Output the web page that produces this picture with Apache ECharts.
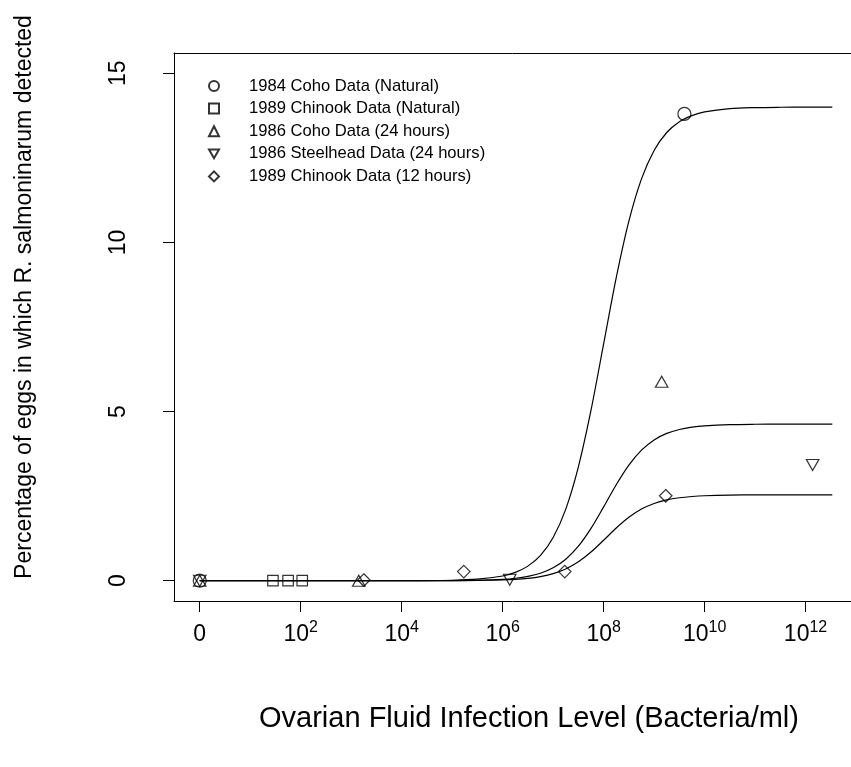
<!DOCTYPE html>
<html><head><meta charset="utf-8">
<script src="https://cdn.jsdelivr.net/npm/echarts@6/dist/echarts.min.js"></script>
<style>html,body{margin:0;padding:0;background:#fff}#c{width:851px;height:767px}</style>
</head><body><div id="c"></div>
<script>
// ---- data (x in log10 of bacteria/ml; "0" plotted at position 0) ----
const seriesNames = ['1984 Coho Data (Natural)','1989 Chinook Data (Natural)','1986 Coho Data (24 hours)','1986 Steelhead Data (24 hours)','1989 Chinook Data (12 hours)'];
const cohoNatX = [0, 9.6];
const cohoNatY = [0, 13.8];
const chinookNatX = [1.45, 1.75, 2.03];
const chinookNatY = [0, 0, 0];
const coho24X = [0, 3.15, 9.15];
const coho24Y = [0, 0, 5.88];
const steel24X = [0, 6.14, 12.14];
const steel24Y = [0, 0.03, 3.42];
const chinook12X = [3.25, 5.23, 7.23, 9.23];
const chinook12Y = [0.02, 0.27, 0.27, 2.51];
// fitted curves
const curveX = [0,1,2,3,4,5,5.5,6,6.25,6.5,6.75,7,7.25,7.5,7.75,8,8.25,8.5,8.75,9,9.25,9.5,9.75,10,10.5,11,11.5,12,12.53];
const curveTopY = [0,0,0,0,0.001,0.014,0.045,0.139,0.246,0.431,0.748,1.276,2.117,3.367,5.04,7.0,8.96,10.63,11.88,12.72,13.25,13.57,13.75,13.86,13.956,13.986,13.996,13.999,14.0];
const curveMidY = [0,0,0,0,0,0.004,0.013,0.041,0.073,0.128,0.222,0.380,0.634,1.019,1.546,2.182,2.838,3.417,3.859,4.162,4.354,4.471,4.539,4.578,4.614,4.625,4.628,4.630,4.630];
const curveLowY = [0,0,0,0,0,0.002,0.007,0.023,0.040,0.070,0.122,0.208,0.348,0.559,0.848,1.197,1.557,1.874,2.117,2.283,2.389,2.453,2.490,2.512,2.531,2.537,2.539,2.540,2.540];
// ticks
const xTickValues = [0,2,4,6,8,10,12];
const xTickBase = ['0','10','10','10','10','10','10'];
const xTickExp = ['','2','4','6','8','10','12'];
const yTickValues = [0,5,10,15];

const FONT = "'Liberation Sans', Arial, Helvetica, sans-serif";
const X_MIN = -0.51, X_MAX = 12.9, Y_MIN = -0.6, Y_MAX = 15.6;
const pairs = (xs, ys) => xs.map((x, i) => [x, ys[i]]);
const markerStyle = {color: 'rgba(0,0,0,0)', borderColor: '#000', borderWidth: 1.2};
const downTri = 'path://M0,0 L2,0 L1,1.732 Z';
const boxLine = {show: true, onZero: false, lineStyle: {color: '#000', width: 1}};

const chart = echarts.init(document.getElementById('c'), null, {renderer: 'canvas'});
const scatter = (name, xs, ys, symbol, size) => ({
  name, type: 'scatter', data: pairs(xs, ys), symbol, symbolSize: size, symbolKeepAspect: false,
  itemStyle: markerStyle, z: 5, silent: true
});
const curve = (ys) => ({
  type: 'line', data: pairs(curveX, ys), showSymbol: false, symbol: 'none',
  smooth: 0.3, lineStyle: {color: '#000', width: 1.2}, z: 3, silent: true
});

chart.setOption({
  animation: false,
  backgroundColor: '#fff',
  textStyle: {fontFamily: FONT, color: '#000'},
  grid: {left: 174, top: 53, right: 0, height: 548, show: false},
  legend: {
    show: true, selectedMode: false, orient: 'vertical', left: 208, top: 77,
    itemWidth: 10, itemHeight: 10, itemGap: 4.6, padding: 0,
    data: seriesNames,
    textStyle: {fontFamily: FONT, fontSize: 16.6, lineHeight: 18, color: '#000', padding: [0, 0, 0, 25]}
  },
  xAxis: [{
    type: 'value', min: X_MIN, max: X_MAX, position: 'bottom',
    name: 'Ovarian Fluid Infection Level (Bacteria/ml)', nameLocation: 'middle', nameGap: 103,
    nameTextStyle: {fontFamily: FONT, fontSize: 29, lineHeight: 29, color: '#000', padding: [0, 0, 0, 33]},
    axisLine: boxLine,
    axisTick: {show: true, length: 11, customValues: xTickValues, lineStyle: {color: '#000', width: 1}},
    axisLabel: {
      show: true, customValues: xTickValues, margin: 19,
      formatter: (v) => {
        const i = xTickValues.indexOf(v);
        if (i < 0) return '';
        return xTickExp[i] ? '{b|' + xTickBase[i] + '}{s|' + xTickExp[i] + '}' : '{b|' + xTickBase[i] + '}';
      },
      rich: {
        b: {fontFamily: FONT, fontSize: 23, lineHeight: 30, color: '#000'},
        s: {fontFamily: FONT, fontSize: 16, lineHeight: 16, verticalAlign: 'top', color: '#000'}
      }
    },
    splitLine: {show: false}
  }, {
    type: 'value', min: X_MIN, max: X_MAX, position: 'top',
    axisLine: boxLine, axisTick: {show: false}, axisLabel: {show: false}, splitLine: {show: false}
  }],
  yAxis: {
    type: 'value', min: Y_MIN, max: Y_MAX,
    name: 'Percentage of eggs in which R. salmoninarum detected', nameLocation: 'middle', nameGap: 138, nameRotate: 90,
    nameTextStyle: {fontFamily: FONT, fontSize: 23, lineHeight: 23, color: '#000', padding: [0, 0, 0, 60]},
    axisLine: boxLine,
    axisTick: {show: true, length: 11, customValues: yTickValues, lineStyle: {color: '#000', width: 1}},
    axisLabel: {show: true, customValues: yTickValues, rotate: 90, margin: 44, fontFamily: FONT, fontSize: 23, lineHeight: 23, color: '#000'},
    splitLine: {show: false}
  },
  series: [
    curve(curveTopY), curve(curveMidY), curve(curveLowY),
    scatter(seriesNames[0], cohoNatX, cohoNatY, 'circle', 13),
    scatter(seriesNames[1], chinookNatX, chinookNatY, 'rect', 10.5),
    scatter(seriesNames[2], coho24X, coho24Y, 'triangle', [12.5, 11]),
    scatter(seriesNames[3], steel24X, steel24Y, downTri, [12.5, 11]),
    scatter(seriesNames[4], chinook12X, chinook12Y, 'diamond', 12.5)
  ]
});
</script>
</body></html>
